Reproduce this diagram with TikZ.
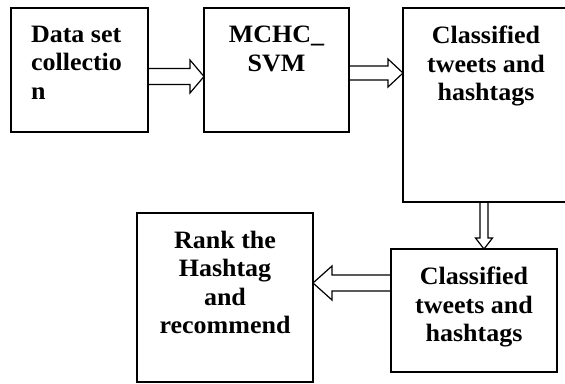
\documentclass[tikz,border=0pt]{standalone}
\usepackage{fontspec}
\setmainfont{Liberation Serif}[FakeStretch=1.04]
\usetikzlibrary{calc}

\tikzset{
  box/.style={draw=black, line width=1.8pt, rectangle, inner sep=0pt, outer sep=0pt},
  label text/.style={inner sep=0pt, outer sep=0pt,
    font=\fontsize{25}{28.5}\selectfont\bfseries},
  hollow/.style={draw=black, line width=1.2pt, line join=miter},
}

% hollow block arrow from #1 to #2: shaft half-width #3, head half-width #4, head length #5
\newcommand\hollowarrow[5]{%
  \path ($(#2)!#5!(#1)$) coordinate (hb);
  \draw[hollow]
    ($(#1)!#3!90:(#2)$) -- ($(hb)!#3!90:(#2)$) -- ($(hb)!#4!90:(#2)$) -- (#2)
    -- ($(hb)!#4!-90:(#2)$) -- ($(hb)!#3!-90:(#2)$) -- ($(#1)!#3!-90:(#2)$);
}

\begin{document}
\begin{tikzpicture}[x=1pt, y=-1pt]
  \useasboundingbox (0,0) rectangle (565,383);

  % boxes (the third one runs past the right edge of the page)
  \node[box, minimum width=137pt, minimum height=124pt] (b1) at (79.5,70) {};
  \node[box, minimum width=145pt, minimum height=124pt] (b2) at (276.5,70) {};
  \node[box, minimum width=174pt, minimum height=194pt] (b3) at (490,105) {};
  \node[box, minimum width=166pt, minimum height=123pt] (b4) at (474,310.5) {};
  \node[box, minimum width=176pt, minimum height=169pt] (b5) at (225,297.5) {};

  % texts
  \node[label text, anchor=north west, align=left] (t1) at ($(b1.north west)+(20,18)$)
    {Data set\\collectio\\n};
  \node[label text, anchor=north, align=center] (t2) at ($(b2.north)+(0,18)$)
    {MCHC\_\\SVM};
  \node[label text, anchor=north, align=center] (t3) at ($(b3.north)+(-4,18)$)
    {Classified\\tweets and\\hashtags};
  \node[label text, anchor=north, align=center] (t4) at ($(b4.north)+(0,18)$)
    {Classified\\tweets and\\hashtags};
  \node[label text, anchor=north, align=center] (t5) at ($(b5.north)+(0,18)$)
    {Rank the\\Hashtag\\and\\recommend};

  % connector end points
  \coordinate (a1s) at ($(b1.east)+(0,6.5)$);
  \coordinate (a1t) at (b2.west |- a1s);
  \coordinate (a2s) at ($(b2.east)+(0,3)$);
  \coordinate (a2t) at (b3.west |- a2s);
  \coordinate (a3s) at ($(b3.south west)+(81,0)$);
  \coordinate (a3t) at (a3s |- b4.north);
  \coordinate (a4s) at ($(b4.west)+(0,-27.5)$);
  \coordinate (a4t) at (b5.east |- a4s);

  % connectors
  \hollowarrow{a1s}{a1t}{8pt}{16.5pt}{14pt}
  \hollowarrow{a2s}{a2t}{7pt}{14pt}{15pt}
  \hollowarrow{a3s}{a3t}{4pt}{8.5pt}{11pt}
  \hollowarrow{a4s}{a4t}{8pt}{17pt}{19pt}
\end{tikzpicture}
\end{document}
